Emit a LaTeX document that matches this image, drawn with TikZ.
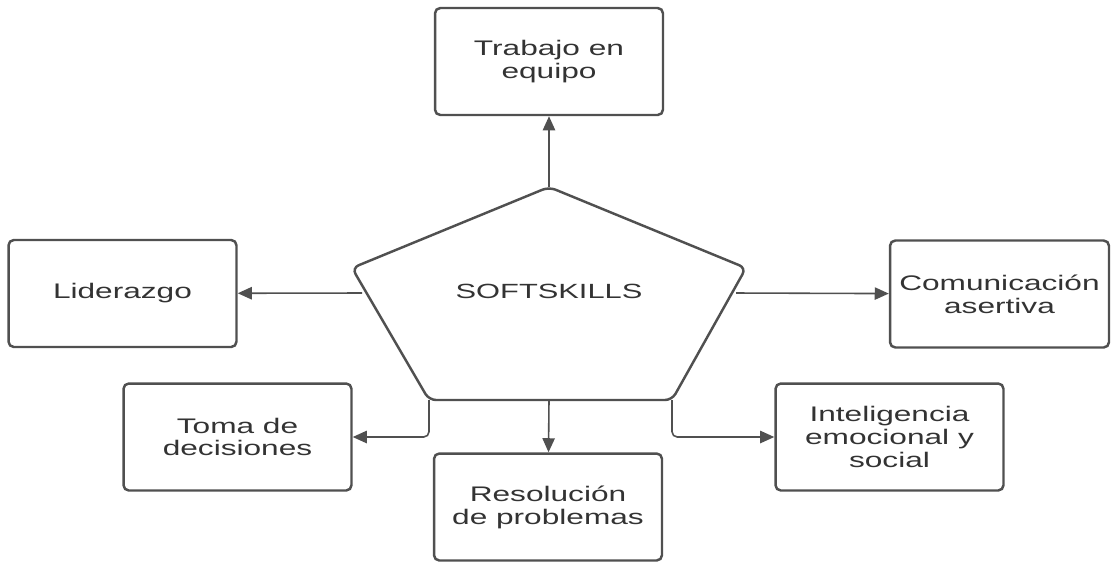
\documentclass[tikz,border=0pt]{standalone}
\usepackage{fontspec}
\usetikzlibrary{arrows.meta}
\newfontfamily\skillfont[FakeStretch=1.5]{Liberation Sans}
\definecolor{edgegray}{HTML}{505050}
\definecolor{textgray}{HTML}{333333}

\begin{document}
\begin{tikzpicture}[x=0.02cm, y=-0.02cm,
		skill/.style = {draw=edgegray, line width=1.4pt, rounded corners=3pt, fill=white,
			minimum width=4.56cm, minimum height=2.14cm, align=center, inner sep=2pt,
			text=textgray, font=\skillfont\fontsize{12}{13}\selectfont},
		link/.style = {draw=edgegray, line width=0.9pt, -{Triangle[length=8pt,width=7pt]}}]
		\useasboundingbox (0,0) rectangle (1112,562);
		\begin{scope}
		\coordinate (ptop) at (549,187);
		\coordinate (pleft) at (352,268);
		\coordinate (pright) at (746,268);
		\coordinate (pbl) at (429,400);
		\coordinate (pbr) at (672,400);
		\coordinate (pbm) at (549,400);
		\coordinate (plm) at (362,293);
		\coordinate (prm) at (736,293);
		\draw[draw=edgegray, line width=1.4pt, rounded corners=4pt] (ptop) -- (pright) -- (pbr) -- (pbl) -- (pleft) -- cycle;
		\node[text=textgray, font=\skillfont\fontsize{11.7}{13}\selectfont] (soft) at (549,291) {SOFTSKILLS};
		\node[skill] (trabajo) at (549,61.5) {Trabajo en\\equipo};
		\node[skill] (lider) at (122.5,293.5) {Liderazgo};
		\node[skill, minimum width=4.38cm] (comun) at (999.5,294) {Comunicación\\asertiva};
		\node[skill] (toma) at (237.5,437) {Toma de\\decisiones};
		\node[skill] (resol) at (548,507) {Resolución\\de problemas};
		\node[skill] (intel) at (889.5,437) {Inteligencia\\emocional y\\social};
		\draw[link] (ptop) -- (trabajo);
		\draw[link] (plm) -- (lider);
		\draw[link] (prm) -- (comun);
		\draw[link] (pbm) -- (resol);
		\draw[link, rounded corners=3pt] (pbl) |- (toma);
		\draw[link, rounded corners=3pt] (pbr) |- (intel);
		\end{scope}
\end{tikzpicture}
\end{document}
